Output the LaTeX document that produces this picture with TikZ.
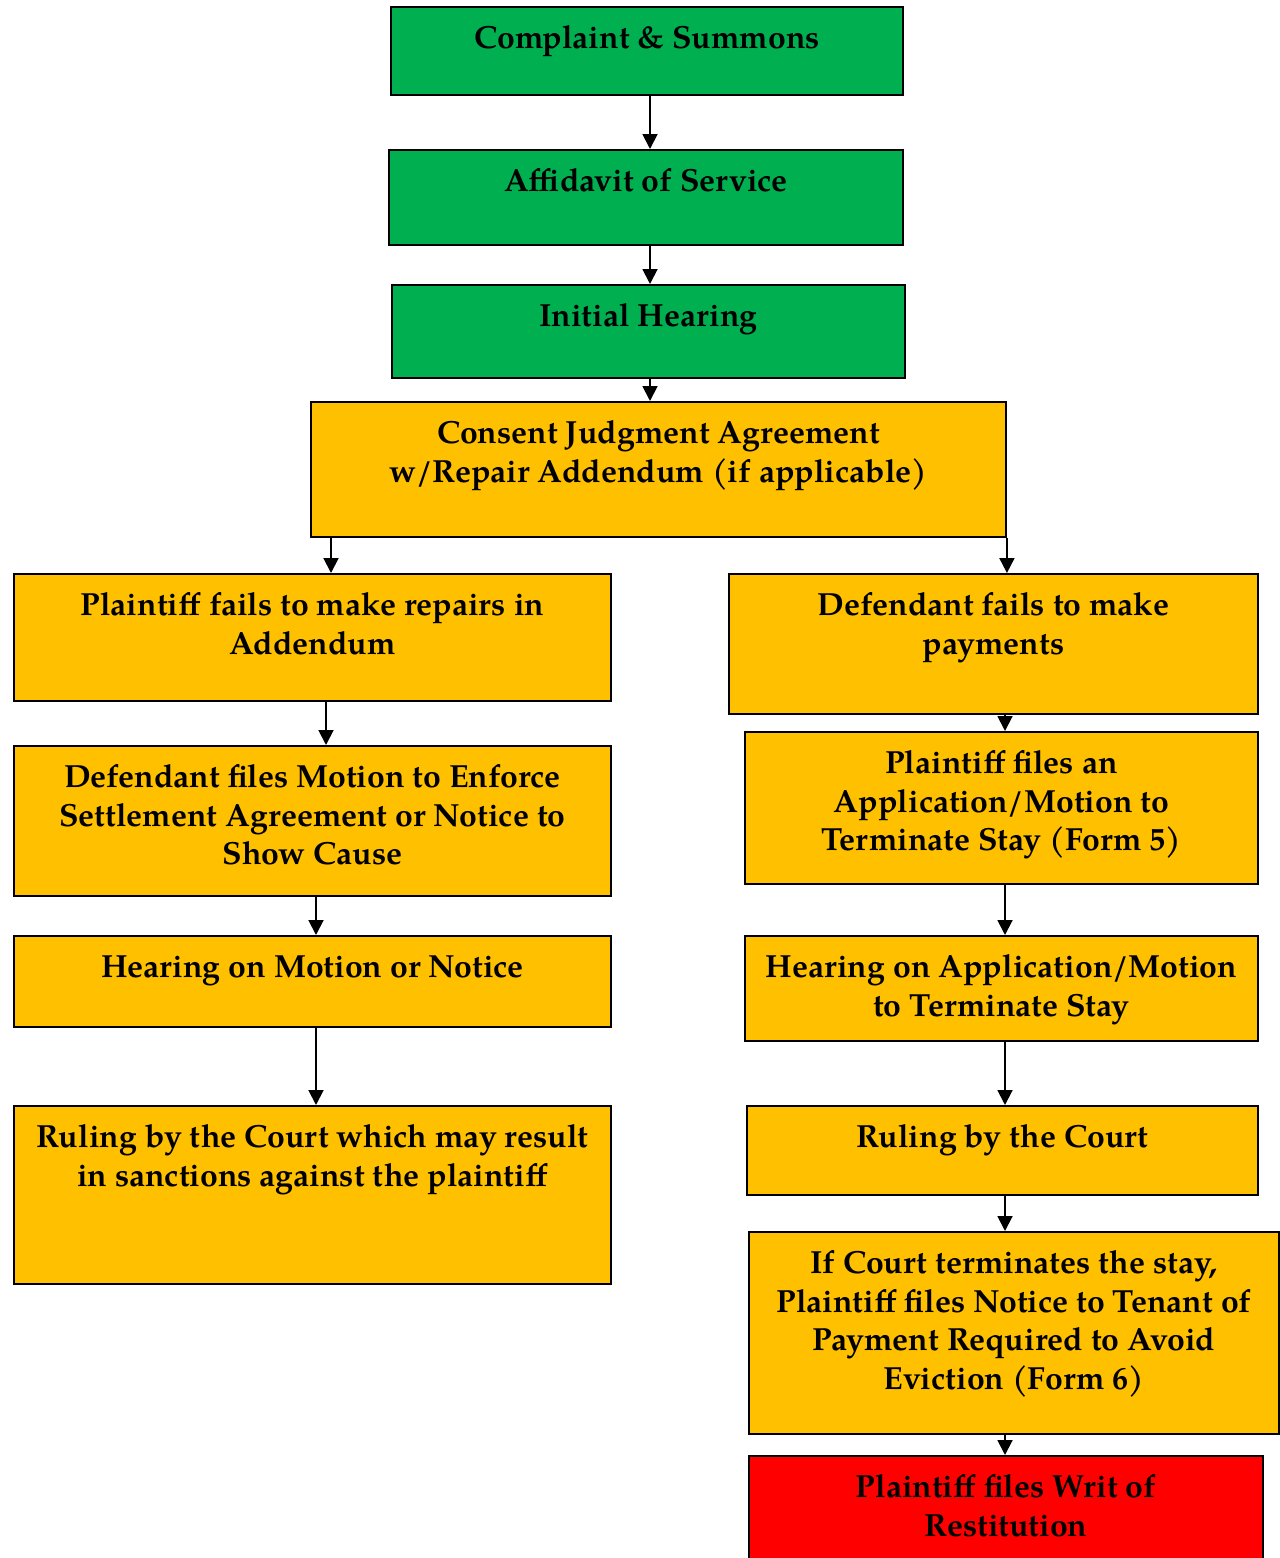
\documentclass[tikz,border=0pt]{standalone}
\usepackage{fontspec}
\setmainfont{TeX Gyre Pagella}
\usepackage{xcolor}
\usetikzlibrary{arrows.meta}
\definecolor{startgreen}{HTML}{00B050}
\definecolor{stageorange}{HTML}{FFC000}
\definecolor{writred}{HTML}{FF0000}
\newlength{\pxu}
\setlength{\pxu}{0.02cm}
\newlength{\stagepad}
\setlength{\stagepad}{8.5pt}
\newcommand{\stage}[3]{\parbox[t][#2\pxu][t]{#1\pxu}{\centering\vspace*{\stagepad}\strut #3}}

\begin{document}
\begin{tikzpicture}[x=0.02cm, y=-0.02cm,
        >={Triangle[length=8.5pt,width=8.5pt]},
        line width=1.1pt,
        stagebox/.style={
        draw=black,
        fill=stageorange,
        rectangle,
        inner sep=0pt,
        anchor=north west,
        text=black,
        font=\fontsize{18.2}{21.9}\selectfont\bfseries}]

        \useasboundingbox (0,0) rectangle (1280,1558);

        % green steps
        \node[stagebox, fill=startgreen] (complaint) at (390,6) {\stage{512}{88}{Complaint \& Summons}};
        \node[stagebox, fill=startgreen] (affidavit) at (388,149) {\stage{514}{95}{Affidavit of Service}};
        \node[stagebox, fill=startgreen] (initial) at (391,284) {\stage{513}{93}{Initial Hearing}};
        \node[stagebox] (consent) at (310,401) {\stage{695}{135}{Consent Judgment Agreement\\w/Repair Addendum (if applicable)}};

        % left branch
        \node[stagebox] (pfails) at (13,573) {\stage{597}{127}{Plaintiff fails to make repairs in\\Addendum}};
        \node[stagebox] (motion) at (13,745) {\stage{597}{150}{Defendant files Motion to Enforce\\Settlement Agreement or Notice to\\Show Cause}};
        \node[stagebox] (hearmotion) at (13,935) {\stage{597}{91}{Hearing on Motion or Notice}};
        \node[stagebox] (rulingleft) at (13,1105) {\stage{597}{178}{Ruling by the Court which may result\\in sanctions against the plaintiff}};

        % right branch
        \node[stagebox] (dfails) at (728,573) {\stage{529}{140}{Defendant fails to make\\payments}};
        \node[stagebox] (application) at (744,731) {\stage{513}{152}{Plaintiff files an\\Application/Motion to\\Terminate Stay (Form 5)}};
        \node[stagebox] (hearapp) at (744,935) {\stage{513}{105}{Hearing on Application/Motion\\to Terminate Stay}};
        \node[stagebox] (rulingright) at (746,1105) {\stage{511}{89}{Ruling by the Court}};
        \node[stagebox] (terminate) at (748,1231) {\stage{530}{202}{If Court terminates the stay,\\Plaintiff files Notice to Tenant of\\Payment Required to Avoid\\Eviction (Form 6)}};
        \node[stagebox, fill=writred] (writ) at (748,1455) {\stage{514}{120}{Plaintiff files Writ of\\Restitution}};

        \foreach \from/\to/\x in {complaint/affidavit/650, affidavit/initial/650, initial/consent/650,
                consent/pfails/331, pfails/motion/326, motion/hearmotion/316, hearmotion/rulingleft/316,
                dfails/application/1005, application/hearapp/1005, hearapp/rulingright/1005,
                rulingright/terminate/1005, terminate/writ/1005}
            \draw[->] (\from.south -| \x,0) -- (\to.north -| \x,0);
        \draw[->] (consent.south east) -- (dfails.north -| consent.east);
\end{tikzpicture}
\end{document}
